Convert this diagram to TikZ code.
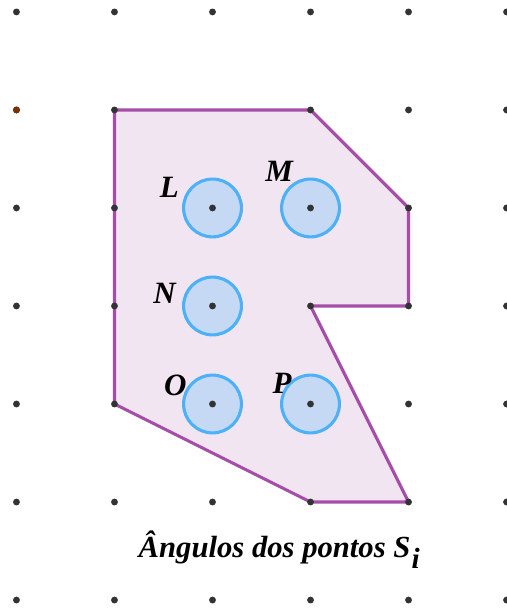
\documentclass[tikz,border=0pt]{standalone}
\usepackage{fontspec}
\setmainfont{Liberation Serif}
\definecolor{polyedge}{HTML}{A54DA8}
\definecolor{polyfill}{HTML}{F2E5F2}
\definecolor{angedge}{HTML}{4DB1F7}
\definecolor{angfill}{HTML}{C5D9F4}
\definecolor{dotgray}{HTML}{333333}
\definecolor{dotbrown}{HTML}{7A3000}
\usetikzlibrary{positioning}

\begin{document}
\begin{tikzpicture}[x=1cm,y=1cm,
  angcirc/.style={circle,draw=angedge,fill=angfill,line width=0.9pt,minimum size=0.59cm,inner sep=0pt},
  ptlabel/.style={font=\fontsize{9}{10}\selectfont\bfseries\itshape,inner sep=0pt}]
  \useasboundingbox (-0.168,-0.122) rectangle (4.995,6.122);
  % region bounded by the polygon
  \draw[polyedge,fill=polyfill,line width=0.9pt,line join=round] (1,5) -- (3,5) -- (4,4) -- (4,3) -- (3,3) -- (4,1) -- (3,1) -- (1,2) -- cycle;
  % angles at the interior points
  \node[angcirc] (L) at (2,4) {};
  \node[angcirc] (M) at (3,4) {};
  \node[angcirc] (N) at (2,3) {};
  \node[angcirc] (O) at (2,2) {};
  \node[angcirc] (P) at (3,2) {};
  % dot grid (no dot at (2,5))
  \foreach \i in {0,...,5}
    \foreach \j in {0,...,6}{
      \ifnum\i=2 \ifnum\j=5 \else \fill[dotgray] (\i,\j) circle (0.035);\fi
      \else \fill[dotgray] (\i,\j) circle (0.035);\fi
    }
  \fill[dotbrown] (0,5) circle (0.035);
  \node[ptlabel] (labL) at (1.56,4.21) {L};
  \node[ptlabel] (labM) at (2.68,4.37) {M};
  \node[ptlabel] (labN) at (1.51,3.13) {N};
  \node[ptlabel] (labO) at (1.62,2.19) {O};
  \node[ptlabel] (labP) at (2.71,2.21) {P};
  \node[font=\fontsize{8.9}{11}\selectfont\bfseries\itshape,inner sep=0pt,anchor=base west] (caption) at (1.24,0.43) {Ângulos dos pontos S\kern0.3pt\raisebox{-0.33em}{\fontsize{8.5}{9}\selectfont i}};
\end{tikzpicture}
\end{document}
